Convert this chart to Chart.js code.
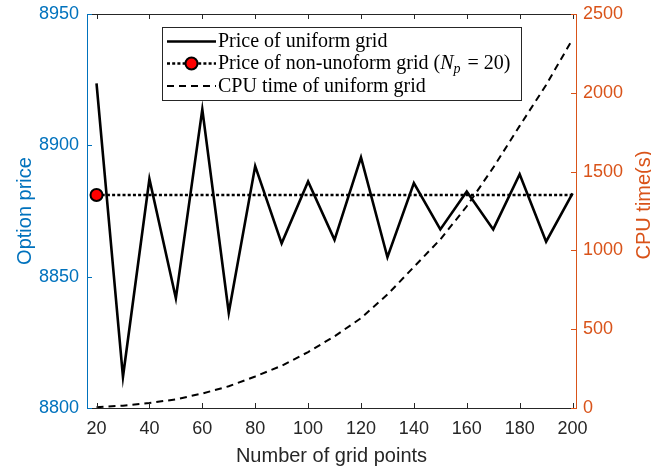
<!DOCTYPE html>
<html>
<head>
<meta charset="utf-8">
<script src="https://cdn.jsdelivr.net/npm/chart.js@4/dist/chart.umd.min.js"></script>
<style>
  html, body { margin: 0; padding: 0; background: #ffffff; }
  #wrap { width: 651px; height: 469px; }
</style>
</head>
<body>
<div id="wrap"><canvas id="chart" width="651" height="469"></canvas></div>
<script>
// Grid sizes and the prices / run times obtained with them
const gridPoints = [20, 30, 40, 50, 60, 70, 80, 90, 100, 110, 120, 130, 140, 150, 160, 170, 180, 190, 200];
const uniformPrice = [8923.6, 8811.9, 8887.2, 8841.8, 8913.7, 8836.3, 8892.1, 8862.7, 8886.2, 8864.0,
                      8895.4, 8857.4, 8885.6, 8868.0, 8882.4, 8868.0, 8889.0, 8863.3, 8881.7];
const nonUniformGrid = [20, 200];
const nonUniformPrice = [8881.1, 8881.1];
const cpuTime = [5, 15, 32, 55, 92, 138, 200, 268, 355, 455, 570, 720, 895, 1070, 1280, 1525, 1790, 2050, 2340];

const xTicks = [20, 40, 60, 80, 100, 120, 140, 160, 180, 200];
const priceTicks = [8800, 8850, 8900, 8950];
const cpuTicks = [0, 500, 1000, 1500, 2000, 2500];

const legendLabels = ['Price of uniform grid', 'Price of non-unoform grid (', 'CPU time of uniform grid'];
const axisTitles = { x: 'Number of grid points', left: 'Option price', right: 'CPU time(s)' };

const BLUE = '#0072BD';
const ORANGE = '#D95319';
const DARK = '#262626';
const SANS = '"Liberation Sans", Arial, Helvetica, sans-serif';
const SERIF = '"Liberation Serif", "Times New Roman", serif';

const zip = (xs, ys) => xs.map((x, i) => ({ x: x, y: ys[i] }));
const fixedTicks = list => scale => { scale.ticks = list.map(v => ({ value: v })); };
const fitBox = (w, h) => scale => {
  if (w !== null) scale.width = w;
  if (h !== null) scale.height = h;
  scale.paddingTop = 0; scale.paddingBottom = 0;
  scale.paddingLeft = 0; scale.paddingRight = 0;
};

// Inward tick marks, the top frame line, axis titles and the legend box
const decorations = {
  id: 'decorations',
  afterDraw(chart) {
    const { ctx, chartArea: a, scales } = chart;
    const len = 5;
    ctx.save();
    ctx.lineWidth = 1;

    // top frame line
    ctx.strokeStyle = DARK;
    ctx.beginPath();
    ctx.moveTo(a.left, a.top + 0.5);
    ctx.lineTo(a.right, a.top + 0.5);
    ctx.stroke();

    // x ticks, bottom and top
    xTicks.forEach(v => {
      const px = Math.round(scales.x.getPixelForValue(v)) + 0.5;
      ctx.beginPath();
      ctx.moveTo(px, a.bottom); ctx.lineTo(px, a.bottom - len);
      ctx.moveTo(px, a.top); ctx.lineTo(px, a.top + len);
      ctx.stroke();
    });

    // left ticks
    ctx.strokeStyle = BLUE;
    priceTicks.forEach(v => {
      const py = Math.round(scales.yPrice.getPixelForValue(v)) + 0.5;
      ctx.beginPath();
      ctx.moveTo(a.left, py); ctx.lineTo(a.left + len, py);
      ctx.stroke();
    });

    // right ticks
    ctx.strokeStyle = ORANGE;
    cpuTicks.forEach(v => {
      const py = Math.round(scales.yCpu.getPixelForValue(v)) + 0.5;
      ctx.beginPath();
      ctx.moveTo(a.right, py); ctx.lineTo(a.right - len, py);
      ctx.stroke();
    });

    // axis titles
    ctx.font = '20px ' + SANS;
    ctx.textAlign = 'center';
    ctx.textBaseline = 'alphabetic';
    ctx.fillStyle = DARK;
    ctx.fillText(axisTitles.x, (a.left + a.right) / 2, 461.5);

    ctx.save();
    ctx.translate(30.5, 211);
    ctx.rotate(-Math.PI / 2);
    ctx.fillStyle = BLUE;
    ctx.fillText(axisTitles.left, 0, 0);
    ctx.restore();

    ctx.save();
    ctx.translate(649.5, 205);
    ctx.rotate(-Math.PI / 2);
    ctx.fillStyle = ORANGE;
    ctx.fillText(axisTitles.right, 0, 0);
    ctx.restore();

    // legend
    const bx = 162.5, by = 27.5, bw = 359, bh = 73;
    ctx.fillStyle = '#ffffff';
    ctx.fillRect(bx, by, bw, bh);
    ctx.strokeStyle = DARK;
    ctx.lineWidth = 1;
    ctx.strokeRect(bx, by, bw, bh);

    const rows = [41.5, 63.5, 86];
    const sx0 = 167, sx1 = 216, tx = 218;
    ctx.strokeStyle = '#000000';
    ctx.lineWidth = 2.5;

    // row 1: solid
    ctx.setLineDash([]);
    ctx.beginPath(); ctx.moveTo(sx0, rows[0]); ctx.lineTo(sx1, rows[0]); ctx.stroke();
    // row 2: dotted with marker
    ctx.setLineDash([3, 2.2]);
    ctx.beginPath(); ctx.moveTo(sx0, rows[1]); ctx.lineTo(sx1, rows[1]); ctx.stroke();
    ctx.setLineDash([]);
    ctx.beginPath(); ctx.arc((sx0 + sx1) / 2, rows[1], 6, 0, Math.PI * 2);
    ctx.fillStyle = '#ff0000'; ctx.fill();
    ctx.lineWidth = 2; ctx.stroke();
    // row 3: dashed
    ctx.lineWidth = 2;
    ctx.setLineDash([7, 5]);
    ctx.beginPath(); ctx.moveTo(sx0, rows[2]); ctx.lineTo(sx1, rows[2]); ctx.stroke();
    ctx.setLineDash([]);

    ctx.fillStyle = '#000000';
    ctx.textAlign = 'left';
    ctx.textBaseline = 'alphabetic';
    ctx.font = '20px ' + SERIF;
    ctx.fillText(legendLabels[0], tx, rows[0] + 5.5);
    ctx.fillText(legendLabels[2], tx, rows[2] + 5.5);

    // row 2 with the inline math part (N_p = 20)
    let x = tx;
    const base = rows[1] + 5.5;
    ctx.fillText(legendLabels[1], x, base);
    x += ctx.measureText(legendLabels[1]).width;
    ctx.font = 'italic 20px ' + SERIF;
    ctx.fillText('N', x, base);
    x += ctx.measureText('N').width;
    ctx.font = 'italic 14px ' + SERIF;
    ctx.fillText('p', x, base + 4);
    x += ctx.measureText('p').width + 2;
    ctx.font = '20px ' + SERIF;
    ctx.fillText(' = 20)', x, base);

    ctx.restore();
  }
};

new Chart(document.getElementById('chart'), {
  type: 'line',
  data: {
    datasets: [
      {
        label: legendLabels[0],
        data: zip(gridPoints, uniformPrice),
        yAxisID: 'yPrice',
        borderColor: '#000000',
        borderWidth: 2.6,
        pointRadius: 0,
        tension: 0
      },
      {
        label: legendLabels[1],
        data: zip(nonUniformGrid, nonUniformPrice),
        yAxisID: 'yPrice',
        borderColor: '#000000',
        borderWidth: 2.6,
        borderDash: [3, 2.2],
        pointRadius: [6, 0],
        pointBackgroundColor: '#ff0000',
        pointBorderColor: '#000000',
        pointBorderWidth: 2,
        tension: 0
      },
      {
        label: legendLabels[2],
        data: zip(gridPoints, cpuTime),
        yAxisID: 'yCpu',
        borderColor: '#000000',
        borderWidth: 2,
        borderDash: [7, 5],
        pointRadius: 0,
        tension: 0
      }
    ]
  },
  options: {
    responsive: false,
    animation: false,
    devicePixelRatio: 1,
    layout: { padding: { top: 14, left: 0, right: 0, bottom: 0 } },
    plugins: { legend: { display: false }, tooltip: { enabled: false } },
    scales: {
      x: {
        type: 'linear',
        position: 'bottom',
        min: 16.4,
        max: 201.3,
        afterBuildTicks: fixedTicks(xTicks),
        afterFit: fitBox(null, 61),
        grid: { display: false, drawTicks: false },
        border: { display: true, color: DARK, width: 1 },
        ticks: {
          color: DARK,
          font: { family: SANS, size: 18 },
          padding: 10,
          maxRotation: 0,
          autoSkip: false,
          callback: v => String(v)
        }
      },
      yPrice: {
        type: 'linear',
        position: 'left',
        min: 8800,
        max: 8950,
        afterBuildTicks: fixedTicks(priceTicks),
        afterFit: fitBox(87, null),
        grid: { display: false, drawTicks: false },
        border: { display: true, color: BLUE, width: 1 },
        ticks: {
          color: BLUE,
          font: { family: SANS, size: 18 },
          padding: 8,
          callback: v => String(v)
        }
      },
      yCpu: {
        type: 'linear',
        position: 'right',
        min: 0,
        max: 2500,
        afterBuildTicks: fixedTicks(cpuTicks),
        afterFit: fitBox(75, null),
        grid: { display: false, drawTicks: false },
        border: { display: true, color: ORANGE, width: 1 },
        ticks: {
          color: ORANGE,
          font: { family: SANS, size: 18 },
          padding: 7,
          callback: v => String(v)
        }
      }
    }
  },
  plugins: [decorations]
});
</script>
</body>
</html>
